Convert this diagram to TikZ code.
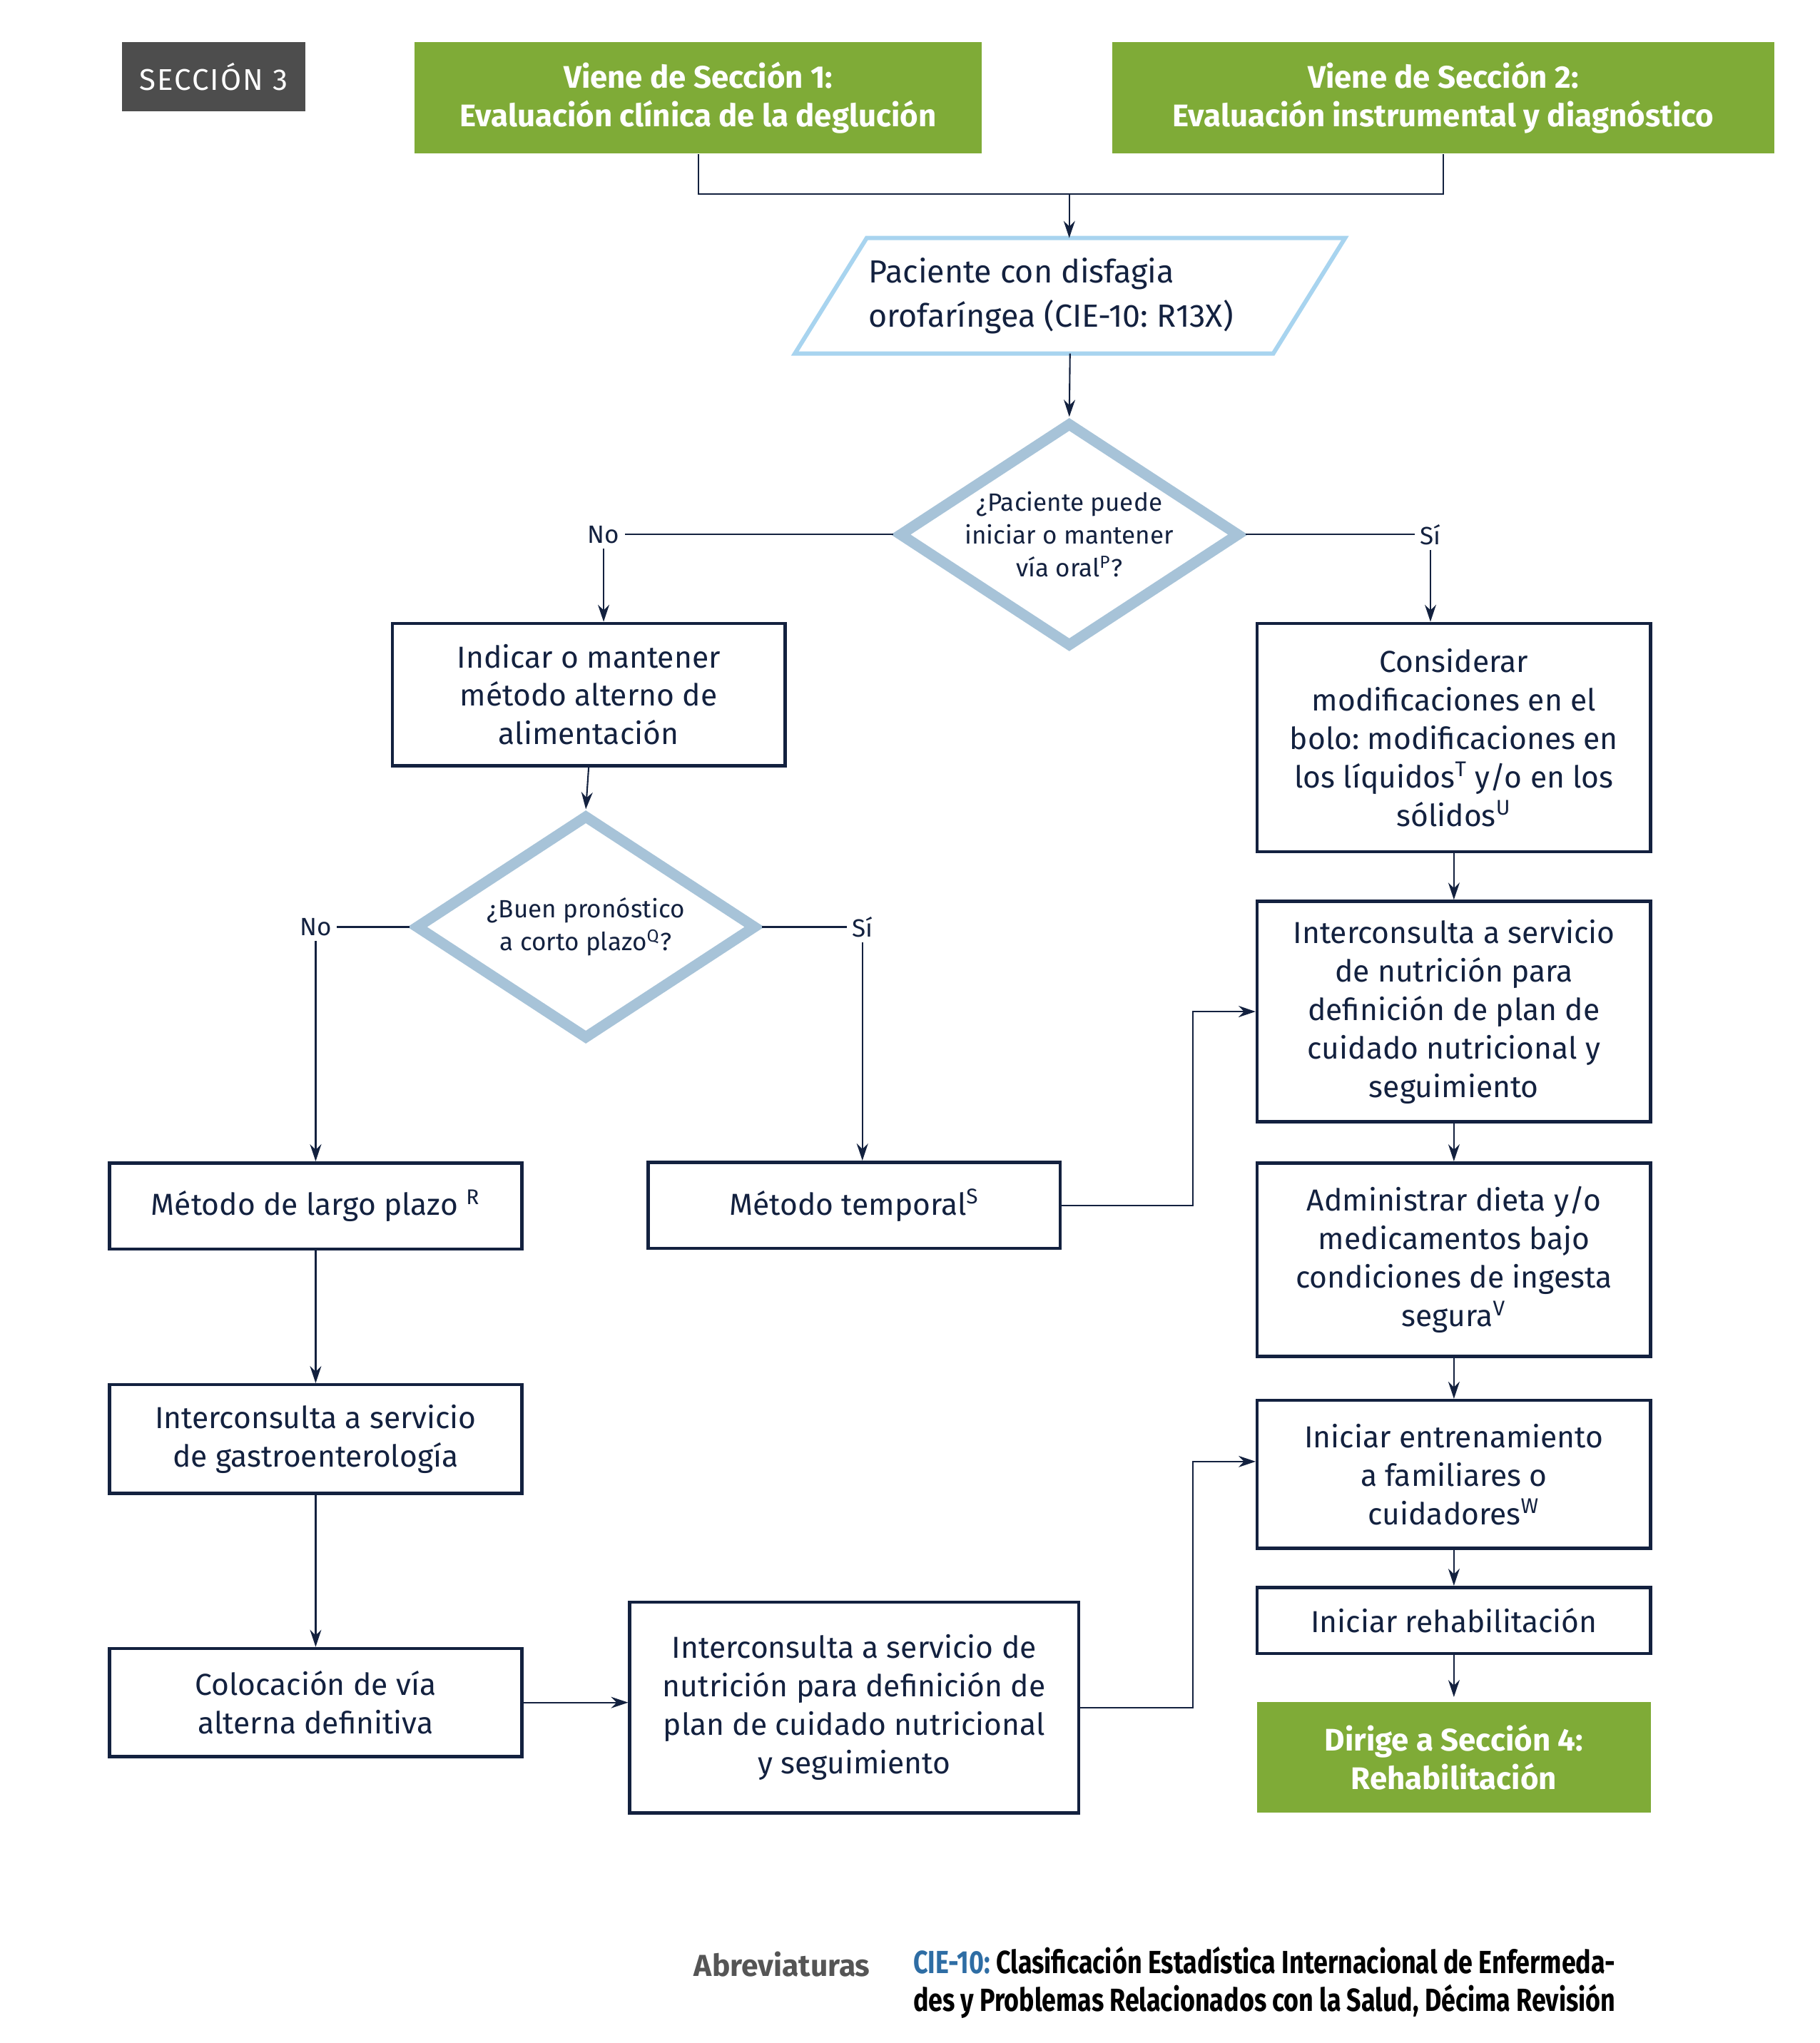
\documentclass[tikz,border=0pt]{standalone}
\usepackage{fontspec}
\setmainfont{Fira Sans}
\newfontfamily\abbrfont[FakeStretch=0.8]{Fira Sans}
\newfontfamily\spacedfont[LetterSpace=5]{Fira Sans}
\usetikzlibrary{arrows.meta, shapes.geometric, calc}
\frenchspacing

\definecolor{navy}{HTML}{13213F}
\definecolor{leafgreen}{HTML}{7FAB37}
\definecolor{secgray}{HTML}{4D4D4D}
\definecolor{steel}{HTML}{A7C3D8}
\definecolor{skyline}{HTML}{A8D4EF}
\definecolor{cieblue}{HTML}{2E6DA4}
\definecolor{abgray}{HTML}{555555}

\newcommand{\flowfont}{\fontsize{12.15}{15.4}\selectfont}
\newcommand{\headfont}{\fontsize{12.5}{15.6}\selectfont}
\newcommand{\parafont}{\fontsize{12.8}{17.6}\selectfont}
\newcommand{\askfont}{\fontsize{10}{13.1}\selectfont}

\begin{document}
\begin{tikzpicture}[x=0.01cm, y=-0.01cm,
    box/.style={draw=navy, line width=1.3pt, fill=white, text=navy, align=center, inner sep=0pt, font=\flowfont},
    greenbox/.style={fill=leafgreen, text=white, align=center, inner sep=0pt, font=\headfont\bfseries},
    decision/.style={diamond, aspect=1.5, draw=steel, line width=4.3pt, text=navy, align=center, inner sep=0pt,
        minimum width=48mm, minimum height=31.6mm, font=\askfont},
    answer/.style={text=navy, inner sep=2pt, font=\askfont},
    line/.style={draw=navy, line width=0.6pt},
    arr/.style={draw=navy, line width=0.6pt, -{Stealth[length=2.4mm, width=1.6mm]}}]

    \useasboundingbox (0, 0) rectangle (2559, 2874);

    % header
    \path node (sec) [fill=secgray, text=white, minimum width=25.7mm, minimum height=9.7mm, font=\spacedfont\fontsize{12}{14}\selectfont] at (300.5, 107.5) {SECCIÓN 3};
    \path node (from1) [greenbox, minimum width=79.8mm, minimum height=15.7mm] at (982, 137.5) {Viene de Sección 1:\\Evaluación clínica de la deglución};
    \path node (from2) [greenbox, minimum width=93mm, minimum height=15.7mm] at (2030, 137.5) {Viene de Sección 2:\\Evaluación instrumental y diagnóstico};
    \coordinate (join) at (1504, 273);

    % entry and first question
    \path node (pac) [minimum width=77.2mm, minimum height=16.1mm, text width=56.6mm, align=flush left, text=navy, font=\parafont] at (1505, 416) {Paciente con disfagia\\orofaríngea (CIE-10: R13X)};
    \draw[skyline, line width=1.7pt] (pac.south west) -- ($(pac.north west)+(101, 0)$) -- (pac.north east) -- ($(pac.south east)+(-101, 0)$) -- cycle;
    \path node (oral) [decision] at (1504, 752) {¿Paciente puede\\iniciar o mantener\\vía oral\textsuperscript{P}?};
    \path node (no1) [answer] at (849, 752) {No};
    \path node (si1) [answer] at (2012, 752) {Sí};

    % left branch
    \path node (alt) [box, minimum width=55.2mm, minimum height=20mm] at (828, 977) {Indicar o mantener\\método alterno de\\alimentación};
    \path node (prog) [decision] at (824, 1304) {¿Buen pronóstico\\a corto plazo\textsuperscript{Q}?};
    \path node (no2) [answer] at (444, 1304) {No};
    \path node (si2) [answer] at (1213, 1304) {Sí};
    \path node (largo) [box, minimum width=58mm, minimum height=12.1mm] at (444, 1696.5) {Método de largo plazo \textsuperscript{R}};
    \path node (temp) [box, minimum width=57.9mm, minimum height=12.1mm] at (1201.5, 1695.5) {Método temporal\textsuperscript{S}};
    \path node (gastro) [box, minimum width=58mm, minimum height=15.3mm] at (444, 2024.5) {Interconsulta a servicio\\de gastroenterología};
    \path node (via) [box, minimum width=58mm, minimum height=15.2mm] at (444, 2395) {Colocación de vía\\alterna definitiva};
    \path node (nutrL) [box, minimum width=63.1mm, minimum height=29.6mm] at (1201.5, 2402) {Interconsulta a servicio de\\nutrición para definición de\\plan de cuidado nutricional\\y seguimiento};

    % right branch
    \path node (bolo) [box, minimum width=55.3mm, minimum height=32.1mm] at (2045, 1037.5) {Considerar\\modificaciones en el\\bolo: modificaciones en\\los líquidos\textsuperscript{T} y/o en los\\sólidos\textsuperscript{U}};
    \path node (nutrR) [box, minimum width=55.3mm, minimum height=31mm] at (2045, 1423) {Interconsulta a servicio\\de nutrición para\\definición de plan de\\cuidado nutricional y\\seguimiento};
    \path node (dieta) [box, minimum width=55.3mm, minimum height=27.2mm] at (2045, 1772) {Administrar dieta y/o\\medicamentos bajo\\condiciones de ingesta\\segura\textsuperscript{V}};
    \path node (ent) [box, minimum width=55.3mm, minimum height=20.8mm] at (2045, 2074) {Iniciar entrenamiento\\a familiares o\\cuidadores\textsuperscript{W}};
    \path node (rehab) [box, minimum width=55.3mm, minimum height=9.3mm] at (2045, 2279.5) {Iniciar rehabilitación};
    \path node (to4) [greenbox, minimum width=55.3mm, minimum height=15.6mm] at (2045, 2472) {Dirige a Sección 4:\\Rehabilitación};

    % connectors
    \draw[line] (from1.south) -- (from1.south |- join) -| (from2.south);
    \draw[arr] (join) -- (join |- pac.north);
    \draw[arr] (pac.south) -- (oral.north);
    \draw[line] (oral.west) -- (no1.east);
    \draw[arr] (no1.south) -- (no1.south |- alt.north);
    \draw[line] (oral.east) -- (si1.west);
    \draw[arr] (si1.south) -- (si1.south |- bolo.north);
    \draw[arr] (alt.south) -- (prog.north);
    \draw[line] (prog.west) -- (no2.east);
    \draw[arr] (no2.south) -- (no2.south |- largo.north);
    \draw[line] (prog.east) -- (si2.west);
    \draw[arr] (si2.south) -- (si2.south |- temp.north);
    \draw[arr] (temp.east) -- ++(184, 0) |- (nutrR.west);
    \draw[arr] (largo.south) -- (gastro.north);
    \draw[arr] (gastro.south) -- (via.north);
    \draw[arr] (via.east) -- (via.east -| nutrL.west);
    \draw[arr] (nutrL.east) -- ++(158, 0) |- ($(ent.west)+(0, -18)$);
    \draw[arr] (bolo.south) -- (nutrR.north);
    \draw[arr] (nutrR.south) -- (dieta.north);
    \draw[arr] (dieta.south) -- (ent.north);
    \draw[arr] (ent.south) -- (rehab.north);
    \draw[arr] (rehab.south) -- ($(to4.north)+(0, -6)$);

    % abbreviations
    \path node (abrev) [text=abgray, font=\flowfont\bfseries] at (1100, 2763) {Abreviaturas};
    \path node (cie) [anchor=west, text width=98.7mm, align=justify, inner sep=0pt, font=\abbrfont\bfseries\fontsize{12.8}{15.1}\selectfont] at (1284, 2789)
        {\textcolor{cieblue}{CIE-10:} Clasificación Estadística Internacional de Enfermeda-\linebreak des y Problemas Relacionados con la Salud, Décima Revisión};

\end{tikzpicture}
\end{document}
